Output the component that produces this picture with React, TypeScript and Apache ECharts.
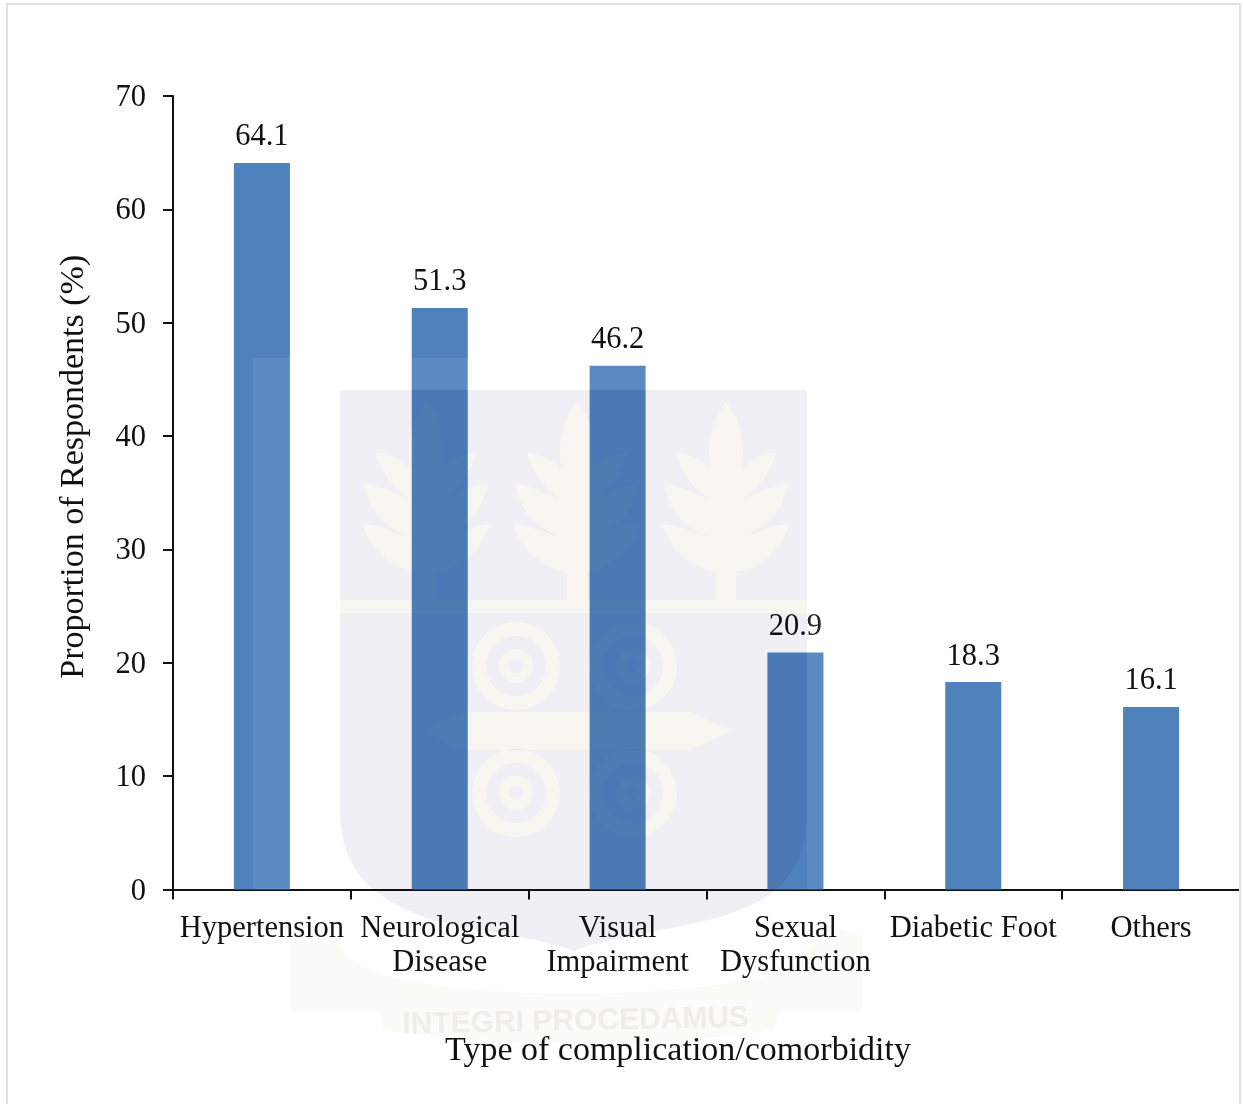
import React, { useEffect, useRef } from "react";
import * as echarts from "echarts";

const categories = ["Hypertension", "Neurological\nDisease", "Visual\nImpairment", "Sexual\nDysfunction", "Diabetic Foot", "Others"];
const values = [64.1, 51.3, 46.2, 20.9, 18.3, 16.1];
const xTitle = "Type of complication/comorbidity";
const yTitle = "Proportion of Respondents (%)";
const FONT = "Liberation Serif";

// Watermark artwork (decorative crest behind the chart)
const leaf = (x: number) => {
  const p = (a: number, b: number) => `${x + a} ${402 + b}`;
  return `M${p(0, 0)} C${p(-12, 15)} ${p(-20, 35)} ${p(-16, 65)} C${p(-25, 58)} ${p(-38, 52)} ${p(-50, 50)} C${p(-45, 72)} ${p(-32, 88)} ${p(-14, 98)} C${p(-30, 92)} ${p(-48, 84)} ${p(-62, 80)} C${p(-58, 110)} ${p(-40, 128)} ${p(-12, 136)} C${p(-30, 132)} ${p(-48, 122)} ${p(-64, 122)} C${p(-55, 150)} ${p(-35, 165)} ${p(-10, 170)} L${p(-10, 198)} L${p(10, 198)} L${p(10, 170)} C${p(35, 165)} ${p(55, 150)} ${p(64, 122)} C${p(48, 122)} ${p(30, 132)} ${p(12, 136)} C${p(40, 128)} ${p(58, 110)} ${p(62, 80)} C${p(48, 84)} ${p(30, 92)} ${p(14, 98)} C${p(32, 88)} ${p(45, 72)} ${p(50, 50)} C${p(38, 52)} ${p(25, 58)} ${p(16, 65)} C${p(20, 35)} ${p(12, 15)} ${p(0, 0)} Z`;
};
const circle = (cx: number, cy: number, r: number, cw: boolean) => {
  const s = cw ? 1 : 0;
  return `M${cx - r} ${cy} A${r} ${r} 0 1 ${s} ${cx + r} ${cy} A${r} ${r} 0 1 ${s} ${cx - r} ${cy} Z`;
};
const swirlCentres = [[516, 666], [633, 666], [516, 793], [633, 793]];
const swirlCream = swirlCentres.map(([x, y]) => circle(x, y, 44, true) + circle(x, y, 30, false) + circle(x, y, 17, true) + circle(x, y, 7, false)).join(" ");
const swirlHole = swirlCentres.map(([x, y]) => circle(x, y, 44, false) + circle(x, y, 30, true) + circle(x, y, 17, false) + circle(x, y, 7, true)).join(" ");
const cross = "M421 731 L462 712 L690 712 L732 731 L690 750 L462 750 Z";
const crossHole = "M421 731 L462 750 L690 750 L732 731 L690 712 L462 712 Z";
const bandHole = "M340 600 L340 613 L807 613 L807 600 Z";
const band = "M340 600 L807 600 L807 613 L340 613 Z";
const shieldOutline = "M340 390 L807 390 L807 810 C807 880 770 905 700 922 C640 935 600 940 574 951 C548 940 500 935 440 922 C385 905 340 880 340 810 Z";
const leafXs = [426, 577, 726];
const shieldPath = [shieldOutline, ...leafXs.map(leaf), bandHole, crossHole, swirlHole].join(" ");
const creamPath = [...leafXs.map(leaf), band, cross, swirlCream].join(" ");
const ribbon = "M290 935 L330 925 L350 960 L383 975 C480 1000 660 1000 775 975 L800 960 L825 925 L863 935 L863 1011 L780 1011 L774 1030 C660 1048 500 1048 383 1030 L380 1011 L290 1011 Z";

echarts.graphic.registerShape("wmShield", echarts.graphic.extendPath(shieldPath, {}) as any);
echarts.graphic.registerShape("wmCream", echarts.graphic.extendPath(creamPath, {}) as any);
echarts.graphic.registerShape("wmRibbon", echarts.graphic.extendPath(ribbon, {}) as any);

const blendCss = `[fill="#efeff5"],[fill="#f7f6f0"],[fill="#fbfbf7"],[fill="#f3f3ef"]{mix-blend-mode:multiply}`;
const veil = { fill: "#fff", opacity: 0.08 };

export default function App() {
  const ref = useRef<HTMLDivElement>(null);
  useEffect(() => {
    const chart = echarts.init(ref.current!, undefined, { renderer: "svg" });
    chart.setOption({
      animation: false,
      backgroundColor: "#fff",
      textStyle: { fontFamily: FONT },
      grid: { left: 173, right: 3, top: 96, bottom: 214.5, containLabel: false },
      xAxis: {
        type: "category",
        data: categories,
        axisLine: { lineStyle: { color: "#111", width: 2 } },
        axisTick: { show: true, length: 10, alignWithLabel: false, lineStyle: { color: "#111", width: 2 } },
        axisLabel: { color: "#111", fontSize: 30.5, fontFamily: FONT, lineHeight: 34, margin: 20, interval: 0 },
        name: xTitle,
        nameLocation: "middle",
        nameGap: 142,
        nameTextStyle: { color: "#111", fontSize: 34, fontFamily: FONT, padding: [0, 57, 0, 0] },
      },
      yAxis: {
        type: "value",
        min: 0,
        max: 70,
        interval: 10,
        splitLine: { show: false },
        axisLine: { show: true, lineStyle: { color: "#111", width: 2 } },
        axisTick: { show: true, length: 10, lineStyle: { color: "#111", width: 2 } },
        axisLabel: { color: "#111", fontSize: 30.5, fontFamily: FONT, margin: 27, padding: [2, 0, 0, 0] },
        name: yTitle,
        nameLocation: "middle",
        nameGap: 85,
        nameTextStyle: { color: "#111", fontSize: 34, fontFamily: FONT, padding: [0, 0, 0, 52] },
      },
      series: [{
        type: "bar",
        data: values,
        barWidth: 56,
        itemStyle: { color: "#4f81bd" },
        label: { show: true, position: "top", distance: 12, color: "#111", fontSize: 30.5, fontFamily: FONT, formatter: (p: any) => p.value.toFixed(1) },
      }],
      graphic: [
        { type: "rect", z: 30, silent: true, shape: { x: 7, y: 4, width: 1233, height: 1110 }, style: { fill: "none", stroke: "#e2e2e2", lineWidth: 2 } },
        { type: "rect", z: 19, silent: true, shape: { x: 253, y: 358, width: 87, height: 531 }, style: veil },
        { type: "rect", z: 19, silent: true, shape: { x: 340, y: 358, width: 467, height: 32 }, style: veil },
        { type: "rect", z: 19, silent: true, shape: { x: 807, y: 358, width: 16, height: 531 }, style: veil },
        { type: "wmRibbon", z: 20, silent: true, style: { fill: "#fbfbf7" } },
        { type: "wmShield", z: 21, silent: true, style: { fill: "#efeff5" } },
        { type: "wmCream", z: 21, silent: true, style: { fill: "#f7f6f0" } },
        { type: "text", z: 22, silent: true, x: 402, y: 1008, rotation: 0.02, style: { text: "INTEGRI PROCEDAMUS", fill: "#f3f3ef", font: "bold 30px 'Liberation Sans'" } },
      ],
    });
    return () => chart.dispose();
  }, []);
  return (
    <>
      <style>{blendCss}</style>
      <div ref={ref} style={{ position: "absolute", left: 0, top: 0, width: 1243, height: 1104 }} />
    </>
  );
}
